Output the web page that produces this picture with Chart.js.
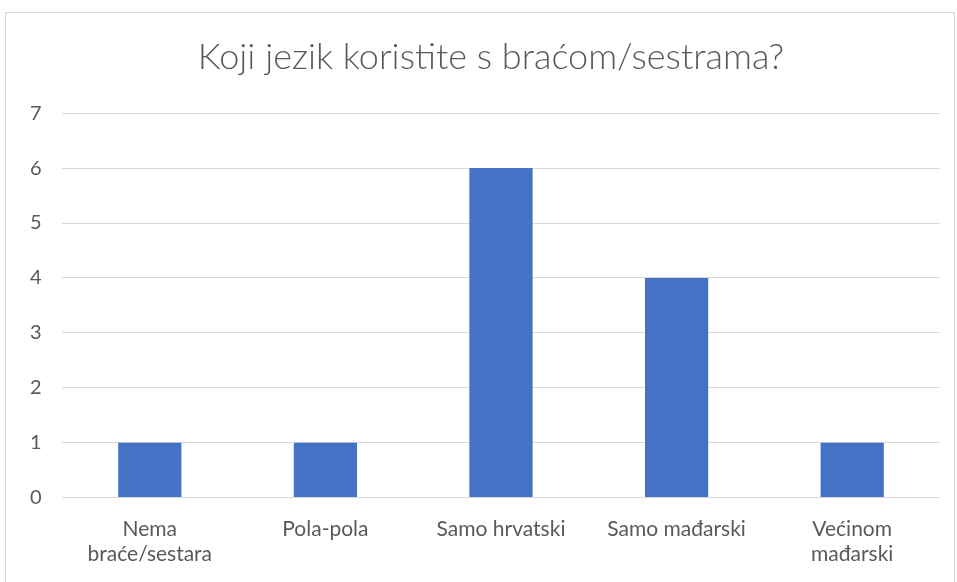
<!DOCTYPE html>
<html>
<head>
<meta charset="utf-8">
<script src="https://cdn.jsdelivr.net/npm/chart.js@4"></script>
<style>
  html, body { margin: 0; padding: 0; background: #fff; overflow: hidden; }
  #wrap {
    position: absolute; left: 5px; top: 12px;
    width: 950px; height: 580px;
    border: 1px solid #d9d9d9; box-sizing: border-box;
  }
  #chart { display: block; }
</style>
</head>
<body>
<div id="wrap"><canvas id="chart" width="948" height="578"></canvas></div>
<script>
const categories = [
  ['Nema', 'braće/sestara'],
  'Pola-pola',
  'Samo hrvatski',
  'Samo mađarski',
  ['Većinom', 'mađarski']
];
const counts = [1, 1, 6, 4, 1];
const yTicks = [0, 1, 2, 3, 4, 5, 6, 7];

const textColor = '#595959';
const gridColor = '#d9d9d9';
const barColor = '#4472c4';

document.addEventListener('DOMContentLoaded', () => {
  const ctx = document.getElementById('chart').getContext('2d');
  new Chart(ctx, {
    type: 'bar',
    data: {
      labels: categories,
      datasets: [{
        data: counts,
        backgroundColor: barColor,
        categoryPercentage: 1,
        barPercentage: 0.36
      }]
    },
    options: {
      responsive: false,
      animation: false,
      // extra left padding keeps the title centred like the original
      layout: { padding: { left: 36, right: 14, top: 0, bottom: 5 } },
      plugins: {
        legend: { display: false },
        tooltip: { enabled: false },
        title: {
          display: true,
          text: 'Koji jezik koristite s braćom/sestrama?',
          color: textColor,
          font: { family: 'Lato', size: 36, weight: '300', lineHeight: 1.2 },
          padding: { top: 23, bottom: 34 }
        }
      },
      scales: {
        x: {
          grid: { display: false, drawTicks: false },
          border: { display: false },
          ticks: {
            color: textColor,
            font: { family: 'Lato', size: 21, lineHeight: 1.2 },
            padding: 19,
            maxRotation: 0,
            autoSkip: false
          }
        },
        y: {
          min: 0,
          max: 7,
          afterBuildTicks: axis => { axis.ticks = yTicks.map(v => ({ value: v })); },
          afterFit: axis => { axis.width = 20; },
          grid: { color: gridColor, drawTicks: false, lineWidth: 1 },
          border: { display: false },
          ticks: {
            color: textColor,
            font: { family: 'Lato', size: 20 },
            mirror: true,
            padding: -32
          }
        }
      }
    }
  });
});
</script>
</body>
</html>
